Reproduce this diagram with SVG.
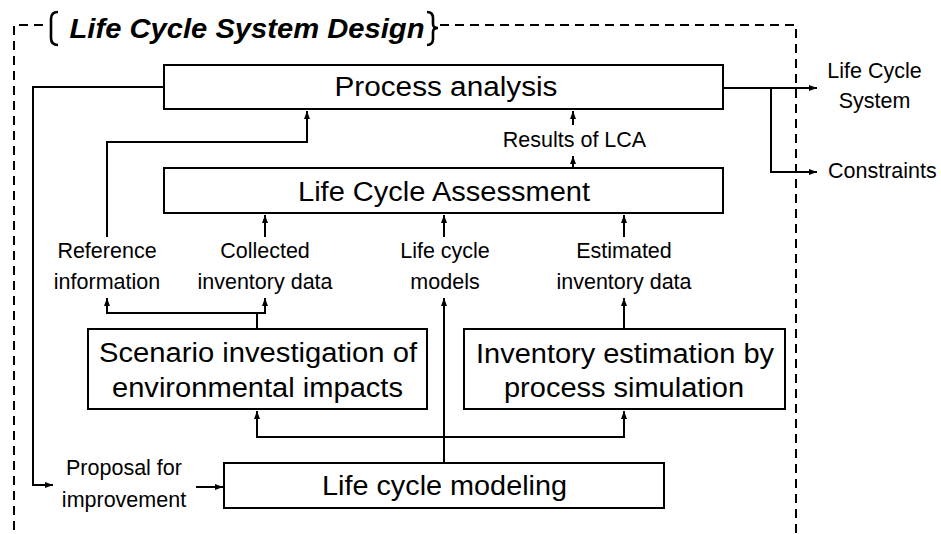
<svg xmlns="http://www.w3.org/2000/svg" width="941" height="534" viewBox="0 0 941 534">
<defs>
<marker id="ah" markerUnits="userSpaceOnUse" markerWidth="9" markerHeight="7" refX="8" refY="3.5" orient="auto">
<path d="M0,0.5 L8,3.5 L0,6.5 z" fill="#000"/>
</marker>
<style>
.box{fill:#fff;stroke:#000;stroke-width:2}
.big{font-family:"Liberation Sans",Arial,sans-serif;font-size:27px;text-anchor:middle;fill:#000}
.lbl{font-family:"Liberation Sans",Arial,sans-serif;font-size:21.5px;text-anchor:middle;fill:#000}
.ln{fill:none;stroke:#000;stroke-width:2}
.br{fill:none;stroke:#000;stroke-width:2.6}
.arr{fill:none;stroke:#000;stroke-width:2;marker-end:url(#ah)}
.dash{fill:none;stroke:#000;stroke-width:2;stroke-dasharray:9,6}
</style>
</defs>
<rect width="941" height="534" fill="#fff"/>
<g id="frame">
<path class="dash" d="M14,530 L14,25 L46,25"/>
<path class="dash" d="M440,25 L796,25 L796,534"/>
<path class="br" d="M58,12 Q51,12 51,19 L51,38 Q51,45 58,45"/>
<path class="br" d="M427,12 Q433,12 433,18 L433,24 Q433,28 438,28 Q433,28 433,32 L433,39 Q433,45 427,45"/>
<text x="247" y="38" font-family="'Liberation Sans',Arial,sans-serif" font-size="27" font-weight="bold" font-style="italic" text-anchor="middle" textLength="355" lengthAdjust="spacingAndGlyphs">Life Cycle System Design</text>
</g>
<g id="connectors">
<path class="arr" d="M164,87 L33,87 L33,485 L53,485"/>
<path class="arr" d="M196,487 L223,487"/>
<path class="arr" d="M107,237 L107,142 L307,142 L307,111"/>
<path class="arr" d="M573,125 L573,111"/>
<path class="arr" d="M573,168 L573,156"/>
<path class="arr" d="M265,237 L265,215"/>
<path class="arr" d="M444,237 L444,215"/>
<path class="arr" d="M624,237 L624,215"/>
<path class="ln" d="M257,329 L257,313"/>
<path class="arr" d="M257,313 L107,313 L107,298"/>
<path class="arr" d="M257,313 L265,313 L265,298"/>
<path class="arr" d="M444,463 L444,298"/>
<path class="arr" d="M624,329 L624,298"/>
<path class="arr" d="M444,437 L257,437 L257,411"/>
<path class="arr" d="M444,437 L624,437 L624,411"/>
<path class="arr" d="M723,88 L817,88"/>
<path class="arr" d="M771,88 L771,172 L817,172"/>
</g>
<g id="process-analysis">
<rect class="box" x="164" y="65" width="559" height="44"/>
<text class="big" x="446" y="96" textLength="223" lengthAdjust="spacingAndGlyphs">Process analysis</text>
</g>
<g id="lca">
<rect class="box" x="164" y="168" width="559" height="45"/>
<text class="big" x="444" y="201" textLength="292" lengthAdjust="spacingAndGlyphs">Life Cycle Assessment</text>
</g>
<g id="scenario">
<rect class="box" x="88" y="329" width="339" height="80"/>
<text class="big" x="258" y="362" textLength="318" lengthAdjust="spacingAndGlyphs">Scenario investigation of</text>
<text class="big" x="257.5" y="397" textLength="291" lengthAdjust="spacingAndGlyphs">environmental impacts</text>
</g>
<g id="inventory-estimation">
<rect class="box" x="464" y="329" width="321" height="80"/>
<text class="big" x="625" y="363" textLength="298" lengthAdjust="spacingAndGlyphs">Inventory estimation by</text>
<text class="big" x="624" y="397" textLength="240" lengthAdjust="spacingAndGlyphs">process simulation</text>
</g>
<g id="lc-modeling">
<rect class="box" x="224" y="463" width="440" height="45"/>
<text class="big" x="444.5" y="495" textLength="245" lengthAdjust="spacingAndGlyphs">Life cycle modeling</text>
</g>
<g id="labels">
<text class="lbl" x="574.5" y="147">Results of LCA</text>
<text class="lbl" x="107" y="258">Reference</text>
<text class="lbl" x="107" y="289">information</text>
<text class="lbl" x="265" y="258">Collected</text>
<text class="lbl" x="265" y="289">inventory data</text>
<text class="lbl" x="445" y="258">Life cycle</text>
<text class="lbl" x="445" y="289">models</text>
<text class="lbl" x="624" y="258">Estimated</text>
<text class="lbl" x="624" y="289">inventory data</text>
<text class="lbl" x="124" y="475">Proposal for</text>
<text class="lbl" x="124" y="507">improvement</text>
<text class="lbl" x="874.5" y="78">Life Cycle</text>
<text class="lbl" x="874.5" y="108">System</text>
<text class="lbl" x="828" y="178" style="text-anchor:start">Constraints</text>
</g>
</svg>
